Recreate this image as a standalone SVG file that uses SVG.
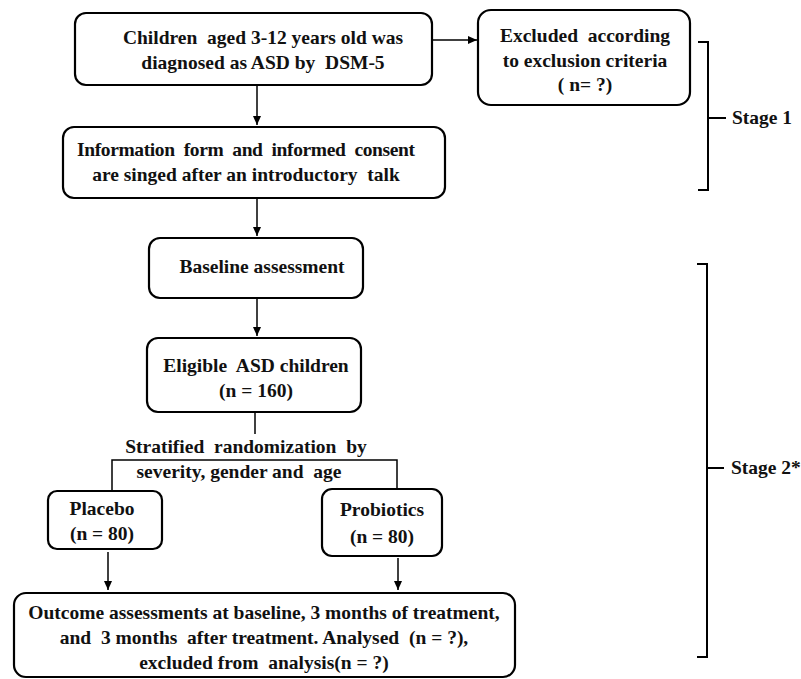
<svg xmlns="http://www.w3.org/2000/svg" width="801" height="679" viewBox="0 0 801 679">
<defs>
<marker id="ah" markerWidth="10" markerHeight="10" refX="9" refY="5" orient="auto" markerUnits="userSpaceOnUse">
<path d="M0,1 L9,5 L0,9 Z" fill="#000"/>
</marker>
<style>
.box{fill:#fff;stroke:#000;stroke-width:2.2}
.t{font-family:"Liberation Serif","Times New Roman",serif;font-weight:bold;font-size:19.5px;fill:#111;text-anchor:middle;white-space:pre}
.tl{font-family:"Liberation Serif","Times New Roman",serif;font-weight:bold;font-size:19.5px;fill:#111}
.ln{fill:none;stroke:#000;stroke-width:1.5}
.br{fill:none;stroke:#000;stroke-width:2}
</style>
</defs>
<rect width="801" height="679" fill="#fff"/>
<g id="connectors">
<line class="ln" x1="432" y1="40" x2="477" y2="40" marker-end="url(#ah)"/>
<line class="ln" x1="257" y1="86" x2="257" y2="125" marker-end="url(#ah)"/>
<line class="ln" x1="257" y1="199" x2="257" y2="236" marker-end="url(#ah)"/>
<line class="ln" x1="257" y1="298" x2="257" y2="336" marker-end="url(#ah)"/>
<polyline class="ln" points="255,412 255,434"/>
<polyline class="ln" points="112,490 112,460 397,460 397,488"/>
<line class="ln" x1="108" y1="552" x2="108" y2="590" marker-end="url(#ah)"/>
<line class="ln" x1="398" y1="558" x2="398" y2="590" marker-end="url(#ah)"/>
</g>
<g id="n1">
<rect class="box" x="75" y="13" width="357" height="72" rx="11"/>
<text class="t" x="263" y="44">Children  aged 3-12 years old was</text>
<text class="t" x="263" y="69">diagnosed as ASD by  DSM-5</text>
</g>
<g id="n_excl">
<rect class="box" x="478" y="10" width="212" height="95" rx="13"/>
<text class="t" x="585" y="42">Excluded  according</text>
<text class="t" x="585" y="67">to exclusion criteria</text>
<text class="t" x="585" y="91">( n= ?)</text>
</g>
<g id="n2">
<rect class="box" x="63" y="127" width="382" height="71" rx="11"/>
<text class="t" x="246" y="156" textLength="338" lengthAdjust="spacing">Information  form  and  informed  consent</text>
<text class="t" x="246" y="181">are singed after an introductory  talk</text>
</g>
<g id="n_base">
<rect class="box" x="149" y="238" width="214" height="60" rx="11"/>
<text class="t" x="262" y="273">Baseline assessment</text>
</g>
<g id="n_elig">
<rect class="box" x="147" y="338" width="214" height="74" rx="11"/>
<text class="t" x="256" y="372">Eligible  ASD children</text>
<text class="t" x="256" y="397">(n = 160)</text>
</g>
<g id="strat">
<text class="t" x="246" y="453">Stratified  randomization  by</text>
<text class="t" x="239" y="478">severity, gender and  age</text>
</g>
<g id="n_placebo">
<rect class="box" x="48" y="491" width="114" height="58" rx="9"/>
<text class="t" x="102" y="515">Placebo</text>
<text class="t" x="102" y="540">(n = 80)</text>
</g>
<g id="n_probio">
<rect class="box" x="322" y="489" width="120" height="67" rx="10"/>
<text class="t" x="382" y="516">Probiotics</text>
<text class="t" x="382" y="543">(n = 80)</text>
</g>
<g id="n_out">
<rect class="box" x="14" y="593" width="501" height="84" rx="12"/>
<text class="t" x="264" y="619">Outcome assessments at baseline, 3 months of treatment,</text>
<text class="t" x="264" y="644">and  3 months  after treatment. Analysed  (n = ?),</text>
<text class="t" x="264" y="669">excluded from  analysis(n = ?)</text>
</g>
<g id="stage1">
<path class="br" d="M698,42 H708 V190 H698 M708,118 H726"/>
<text class="tl" x="732" y="124">Stage 1</text>
</g>
<g id="stage2">
<path class="br" d="M697,264 H707 V657 H697 M707,468 H724"/>
<text class="tl" x="731" y="474">Stage 2*</text>
</g>
</svg>
